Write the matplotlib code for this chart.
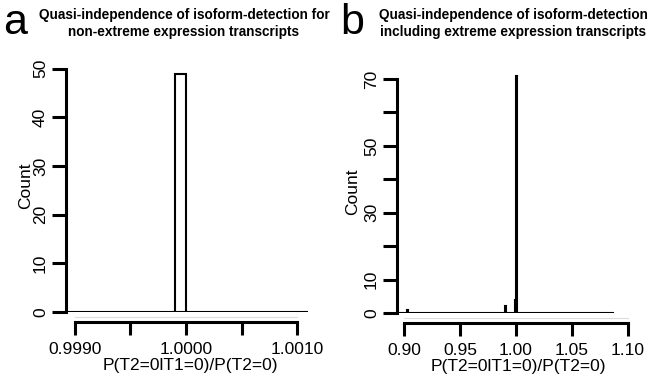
import matplotlib
matplotlib.use("Agg")
import matplotlib.pyplot as plt
import numpy as np

plt.rcParams['font.family'] = ['Liberation Sans', 'DejaVu Sans']

# panel a: histogram, bin width 0.0001
a_edges = np.round(np.arange(0.9989, 1.00111, 0.0001), 4)
a_counts = [0, 0, 0, 0, 0, 0, 0, 0, 0, 0, 49, 0, 0, 0, 0, 0, 0, 0, 0, 0, 0, 0]
a_xticks = [0.9990, 0.9995, 1.0000, 1.0005, 1.0010]
a_xlabels = ["0.9990", "", "1.0000", "", "1.0010"]
a_yticks = [0, 10, 20, 30, 40, 50]

# panel b: only non-empty bins listed, bin width 0.001
b_range = (0.8938, 1.0875)
b_left = [0.903, 0.990, 0.999, 1.000]
b_counts = [1, 2, 4, 71]
b_width = 0.001
b_xticks = [0.90, 0.95, 1.00, 1.05, 1.10]
b_xlabels = ["0.90", "0.95", "1.00", "1.05", "1.10"]
b_yticks = [0, 10, 20, 30, 40, 50, 60, 70]
b_ylabels = ["0", "10", "", "30", "", "50", "", "70"]

W, H = 657, 384
fig = plt.figure(figsize=(W / 100, H / 100), dpi=100)

def px_axes(l, r, t, b):
    return fig.add_axes([l / W, 1 - b / H, (r - l) / W, (b - t) / H])

ax1 = px_axes(66, 315, 59, 312)
ax2 = px_axes(397, 640, 70, 313)

def style(ax, xticks, xlabels, yticks, ylabels, xb, yb, lpad):
    for s in ['top', 'right']:
        ax.spines[s].set_visible(False)
    ax.spines['bottom'].set_position(('outward', 7.2))
    ax.spines['bottom'].set_bounds(*xb)
    ax.spines['left'].set_bounds(*yb)
    for s in ['bottom', 'left']:
        ax.spines[s].set_linewidth(2.2)
    ax.set_xticks(xticks)
    ax.set_xticklabels(xlabels, fontsize=12.5)
    ax.set_yticks(yticks)
    ax.set_yticklabels(ylabels, fontsize=12.5, rotation=90, va='center')
    ax.tick_params(axis='x', direction='out', length=9.4, width=2.2, pad=5)
    ax.tick_params(axis='y', direction='out', length=10, width=2.2, pad=3)
    ax.set_xlabel("P(T2=0lT1=0)/P(T2=0)", fontsize=12.5, labelpad=1)
    ax.set_ylabel("Count", fontsize=12.5, labelpad=lpad)

# panel a
ax1.bar(a_edges[:-1], a_counts, width=np.diff(a_edges), align='edge',
        color='white', edgecolor='black', linewidth=1.5)
ax1.set_xlim(0.998919, 1.001162)
ax1.set_ylim(0, 52)
style(ax1, a_xticks, a_xlabels, a_yticks, [str(v) for v in a_yticks],
      (0.9990, 1.0010), (0, 50), 0)
ax1.plot([0.9990, 1.0010], [-1.0, -1.0], color='#dddddd', lw=0.8, clip_on=False)

# panel b
ax2.hlines(0, b_range[0], b_range[1], color='black', lw=1.5)
ax2.bar(b_left, b_counts, width=b_width, align='edge',
        color='white', edgecolor='black', linewidth=1.5)
ax2.set_xlim(0.89375, 1.1107)
ax2.set_ylim(0, 72.7)
style(ax2, b_xticks, b_xlabels, b_yticks, b_ylabels, (0.90, 1.10), (0, 70), 3)
ax2.plot([0.90, 1.10], [-1.5, -1.5], color='#dddddd', lw=0.8, clip_on=False)

# titles and panel letters
fig.text(184 / W, 1 - 8 / H,
         "Quasi-independence of isoform-detection for\nnon-extreme expression transcripts",
         ha='center', va='top', fontsize=9.8, fontweight='bold', linespacing=1.3)
fig.text(513 / W, 1 - 8 / H,
         "Quasi-independence of isoform-detection\nincluding extreme expression transcripts",
         ha='center', va='top', fontsize=9.8, fontweight='bold', linespacing=1.3)
fig.text(3 / W, 1 - 34 / H, "a", fontsize=31, ha='left', va='baseline')
fig.text(340 / W, 1 - 34 / H, "b", fontsize=31, ha='left', va='baseline')

fig.savefig("out.png", dpi=100)
